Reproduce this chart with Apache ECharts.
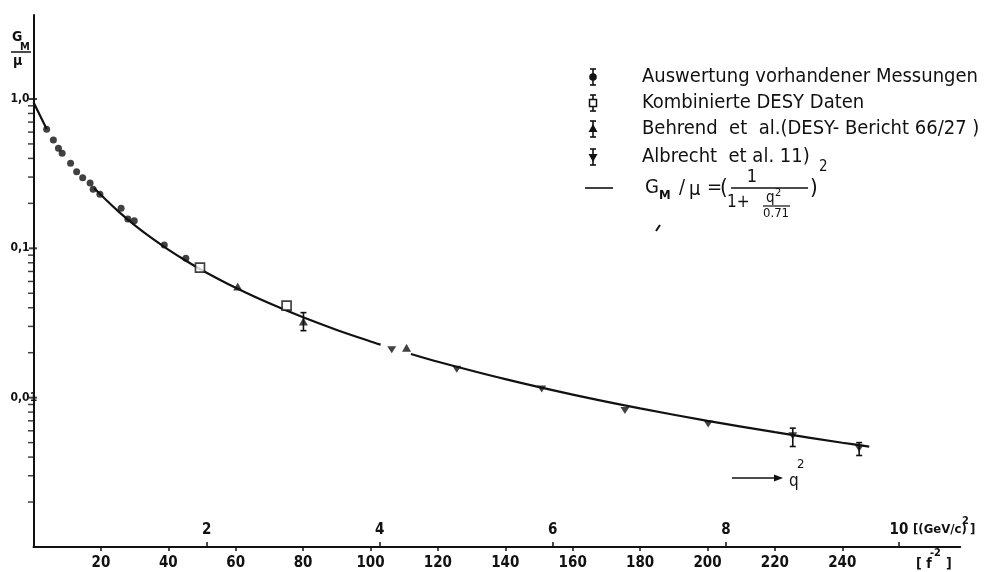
<!DOCTYPE html>
<html>
<head>
<meta charset="utf-8">
<script src="https://cdn.jsdelivr.net/npm/echarts@6/dist/echarts.min.js"></script>
<style>
html,body{margin:0;padding:0;background:#fff;}
#chart{width:1007px;height:572px;}
</style>
</head>
<body>
<div id="chart"></div>
<script>
// Magnetic form factor of the proton G_M/mu against momentum transfer q^2 (f^-2 and (GeV/c)^2)

const INK = '#111111';
const FONT = "'Liberation Sans Narrow','DejaVu Sans Condensed','Noto Sans',sans-serif";

// Auswertung vorhandener Messungen (filled circles)
const auswertungX = [3.9, 5.9, 7.4, 8.5, 11.0, 12.8, 14.6, 16.8, 17.7, 19.7, 26.0, 28.0, 29.9, 38.8, 45.2];
const auswertungY = [0.627, 0.531, 0.468, 0.433, 0.371, 0.326, 0.297, 0.274, 0.249, 0.230, 0.1855, 0.157, 0.153, 0.1054, 0.0858];

// Kombinierte DESY Daten (open squares)
const desyX = [49.4, 75.1];
const desyY = [0.0743, 0.0413];

// Behrend et al. (up triangles)
const behrendX = [60.6, 80.1, 110.7];
const behrendY = [0.0554, 0.0323, 0.0216];

// Albrecht et al. (down triangles)
const albrechtX = [106.3, 125.6, 150.8, 175.5, 200.2, 225.3, 245.0];
const albrechtY = [0.0209, 0.0155, 0.01145, 0.0082, 0.00665, 0.00555, 0.00459];

// error bars
const errorBarX = [80.1, 225.3, 245.0];
const errorBarLow = [0.0281, 0.00471, 0.0041];
const errorBarHigh = [0.0371, 0.00625, 0.0050];

// dipole fit curve; null marks the breaks in the drawn line
const fitX = [0, 3.9, 10, 18, 20, 25, 30, 35, 40, 45, 50, 60, 70, 80, 90, 100, 103, 107, 112, 120, 140, 160, 180, 200, 220, 240, 248];
const fitY = [0.95, 0.63, null, 0.2532, 0.2276, 0.178, 0.143, 0.1173, 0.0981, 0.0832, 0.0714, 0.0544, 0.0428, 0.0345, 0.0284, 0.0238, 0.02265, null, 0.01962, 0.0174, 0.0133, 0.01048, 0.00847, 0.00699, 0.00587, 0.00499, 0.00470];

// axis ticks
const xTickValues = [20, 40, 60, 80, 100, 120, 140, 160, 180, 200, 220, 240];
const gevTickValues = [2, 4, 6, 8, 10];
const yMajorTicks = [1, 0.1, 0.01];
const yMajorLabels = ['1,0', '0,1', '0,01'];
const yMinorTicks = [0.002, 0.003, 0.004, 0.005, 0.006, 0.007, 0.008, 0.009,
                     0.02, 0.03, 0.04, 0.05, 0.06, 0.07, 0.08, 0.09,
                     0.2, 0.3, 0.4, 0.5, 0.6, 0.7, 0.8, 0.9];

// legend entries
const legendLabels = ['Auswertung vorhandener Messungen', 'Kombinierte DESY Daten',
                      'Behrend  et  al.(DESY- Bericht 66/27 )', 'Albrecht  et al. 11)'];

const X_MAX = 275;
const F2_PER_GEV2 = 25.68;

const chart = echarts.init(document.getElementById('chart'), null, {renderer: 'canvas'});

function pairs(xs, ys) { return xs.map((x, i) => [x, ys[i] == null ? '-' : ys[i]]); }

function yLabel(v) {
  for (let i = 0; i < yMajorTicks.length; i++) {
    if (Math.abs(Math.log10(v) - Math.log10(yMajorTicks[i])) < 1e-6) return yMajorLabels[i];
  }
  return '';
}

// legend marker: symbol with an error bar
function legendMarker(cx, cy, kind) {
  const bar = [
    {type: 'line', shape: {x1: cx, y1: cy - 8, x2: cx, y2: cy + 8}, style: {stroke: INK, lineWidth: 1.6}},
    {type: 'line', shape: {x1: cx - 3, y1: cy - 8, x2: cx + 3, y2: cy - 8}, style: {stroke: INK, lineWidth: 1.6}},
    {type: 'line', shape: {x1: cx - 3, y1: cy + 8, x2: cx + 3, y2: cy + 8}, style: {stroke: INK, lineWidth: 1.6}}
  ];
  let sym;
  if (kind === 'circle') sym = {type: 'circle', shape: {cx: cx, cy: cy, r: 3.8}, style: {fill: INK}};
  else if (kind === 'square') sym = {type: 'rect', shape: {x: cx - 3.5, y: cy - 3.5, width: 7, height: 7}, style: {fill: '#fff', stroke: INK, lineWidth: 1.5}};
  else if (kind === 'up') sym = {type: 'polygon', shape: {points: [[cx, cy - 5], [cx + 4.5, cy + 3], [cx - 4.5, cy + 3]]}, style: {fill: INK}};
  else sym = {type: 'polygon', shape: {points: [[cx - 4.5, cy - 3], [cx + 4.5, cy - 3], [cx, cy + 5]]}, style: {fill: INK}};
  return {type: 'group', children: bar.concat([sym])};
}

function txt(x, y, s, size, extra) {
  return Object.assign({type: 'text', x: x, y: y, style: Object.assign({
    text: s, fill: INK, font: size + 'px ' + FONT, verticalAlign: 'middle', align: 'left'
  }, extra || {})});
}
function seg(x1, y1, x2, y2, w) {
  return {type: 'line', shape: {x1: x1, y1: y1, x2: x2, y2: y2}, style: {stroke: INK, lineWidth: w || 1.5}};
}

const legendRows = [77, 103, 129, 157];
const legendKinds = ['circle', 'square', 'up', 'down'];
const graphics = [];
legendLabels.forEach((label, i) => {
  graphics.push(legendMarker(593, legendRows[i], legendKinds[i]));
  graphics.push(txt(642, legendRows[i], label, 20));
});

// fit formula row
const fy = 188;
graphics.push(seg(585, fy, 613, fy, 1.6));
graphics.push(txt(645, fy, 'G', 20));
graphics.push(txt(659, fy + 8, 'M', 13, {font: 'bold 13px ' + FONT}));
graphics.push(txt(679, fy, '/', 20));
graphics.push(txt(689, fy + 2, 'μ', 20));
graphics.push(txt(707, fy, '=', 20));
graphics.push(txt(720, fy, '(', 22));
graphics.push(txt(752, fy - 11, '1', 18, {align: 'center'}));
graphics.push(seg(731, fy, 808, fy, 1.6));
graphics.push(txt(727, fy + 15, '1+', 17));
graphics.push(txt(766, fy + 10, 'q', 15));
graphics.push(txt(775, fy + 5, '2', 11));
graphics.push(seg(763, fy + 18, 790, fy + 18, 1.2));
graphics.push(txt(776, fy + 26, '0.71', 13, {align: 'center'}));
graphics.push(txt(810, fy, ')', 22));
graphics.push(txt(819, fy - 21, '2', 15));
graphics.push(seg(656, 231, 660, 225, 2));

// y axis title G_M / mu
graphics.push(txt(12, 37, 'G', 14, {font: 'bold 14px ' + FONT}));
graphics.push(txt(20, 47, 'M', 11, {font: 'bold 11px ' + FONT}));
graphics.push(seg(11, 52, 31, 52, 1.5));
graphics.push(txt(13, 61, 'μ', 14, {font: 'bold 14px ' + FONT}));

// q^2 direction arrow
graphics.push(seg(732, 478, 776, 478, 1.5));
graphics.push({type: 'polygon', shape: {points: [[774, 474.5], [783, 478], [774, 481.5]]}, style: {fill: INK}});
graphics.push(txt(789, 482, 'q', 17));
graphics.push(txt(797, 465, '2', 13));

// axis units
graphics.push(txt(913, 530, '[(GeV/c)', 13, {font: 'bold 13px ' + FONT}));
graphics.push(txt(962, 521, '2', 11, {font: 'bold 11px ' + FONT}));
graphics.push(txt(970, 530, ']', 13, {font: 'bold 13px ' + FONT}));
graphics.push(txt(916, 564, '[ f', 14, {font: 'bold 14px ' + FONT}));
graphics.push(txt(930, 553, '-2', 11, {font: 'bold 11px ' + FONT}));
graphics.push(txt(946, 564, ']', 14, {font: 'bold 14px ' + FONT}));

const axisFont = {fontFamily: FONT, fontWeight: 'bold', color: INK};

const option = {
  backgroundColor: '#fff',
  animation: false,
  textStyle: {fontFamily: FONT, color: INK},
  grid: {left: 33.5, right: 46.75, top: 15, bottom: 25, containLabel: false, outerBoundsMode: 'none'},
  xAxis: [
    {
      type: 'value', min: 0, max: X_MAX, position: 'bottom',
      splitLine: {show: false},
      axisLine: {show: true, onZero: false, lineStyle: {color: INK, width: 2}},
      axisTick: {show: true, customValues: xTickValues, length: 4, lineStyle: {color: INK, width: 1.5}},
      axisLabel: Object.assign({customValues: xTickValues, fontSize: 15, margin: 9}, axisFont)
    },
    {
      type: 'value', min: 0, max: X_MAX / F2_PER_GEV2, position: 'bottom',
      splitLine: {show: false},
      axisLine: {show: false, onZero: false},
      axisTick: {show: true, inside: true, customValues: gevTickValues, length: 5, lineStyle: {color: INK, width: 1.5}},
      axisLabel: Object.assign({inside: true, customValues: gevTickValues, fontSize: 15, margin: 9}, axisFont)
    }
  ],
  yAxis: {
    type: 'log', logBase: 10, min: 0.001, max: 3.65,
    splitLine: {show: false},
    axisLine: {show: true, onZero: false, lineStyle: {color: INK, width: 2}},
    axisTick: {show: false},
    axisLabel: Object.assign({fontSize: 12, margin: 23, align: 'left', formatter: yLabel, showMinLabel: false, showMaxLabel: false}, axisFont)
  },
  series: [
    {
      name: 'fit', type: 'line', data: pairs(fitX, fitY), smooth: 0.3, showSymbol: false,
      connectNulls: false, lineStyle: {color: INK, width: 2.2}, z: 2, silent: true
    },
    {
      name: legendLabels[0], type: 'scatter', data: pairs(auswertungX, auswertungY),
      symbol: 'circle', symbolSize: 7, itemStyle: {color: INK}, z: 3
    },
    {
      name: legendLabels[1], type: 'scatter', data: pairs(desyX, desyY),
      symbol: 'rect', symbolSize: 9, itemStyle: {color: '#fff', borderColor: INK, borderWidth: 1.7}, z: 4
    },
    {
      name: legendLabels[2], type: 'scatter', data: pairs(behrendX, behrendY),
      symbol: 'triangle', symbolSize: [9, 8], itemStyle: {color: INK}, z: 3
    },
    {
      name: legendLabels[3], type: 'scatter', data: pairs(albrechtX, albrechtY),
      symbol: 'path://M0,0 L10,0 L5,8 Z', symbolSize: [9, 7], itemStyle: {color: INK}, z: 3
    },
    {
      name: 'errors', type: 'custom', z: 5, silent: true,
      data: errorBarX.map((x, i) => [x, errorBarLow[i], errorBarHigh[i]]),
      encode: {x: 0, y: [1, 2]},
      renderItem: function (params, api) {
        const lo = api.coord([api.value(0), api.value(1)]);
        const hi = api.coord([api.value(0), api.value(2)]);
        const w = 3, st = {stroke: INK, lineWidth: 1.6};
        return {type: 'group', children: [
          {type: 'line', shape: {x1: lo[0], y1: lo[1], x2: hi[0], y2: hi[1]}, style: st},
          {type: 'line', shape: {x1: lo[0] - w, y1: lo[1], x2: lo[0] + w, y2: lo[1]}, style: st},
          {type: 'line', shape: {x1: hi[0] - w, y1: hi[1], x2: hi[0] + w, y2: hi[1]}, style: st}
        ]};
      }
    },
    {
      name: 'minor ticks', type: 'scatter', silent: true, clip: false, z: 6,
      data: yMinorTicks.map(v => [0, v]),
      symbol: 'rect', symbolSize: [5, 1.5], symbolOffset: [-3, 0], itemStyle: {color: INK}
    },
    {
      name: 'major ticks', type: 'scatter', silent: true, clip: false, z: 6,
      data: yMajorTicks.map(v => [0, v]),
      symbol: 'rect', symbolSize: [8, 2], symbolOffset: [-0.5, 0], itemStyle: {color: INK}
    }
  ],
  graphic: graphics
};

chart.setOption(option);
</script>
</body>
</html>
